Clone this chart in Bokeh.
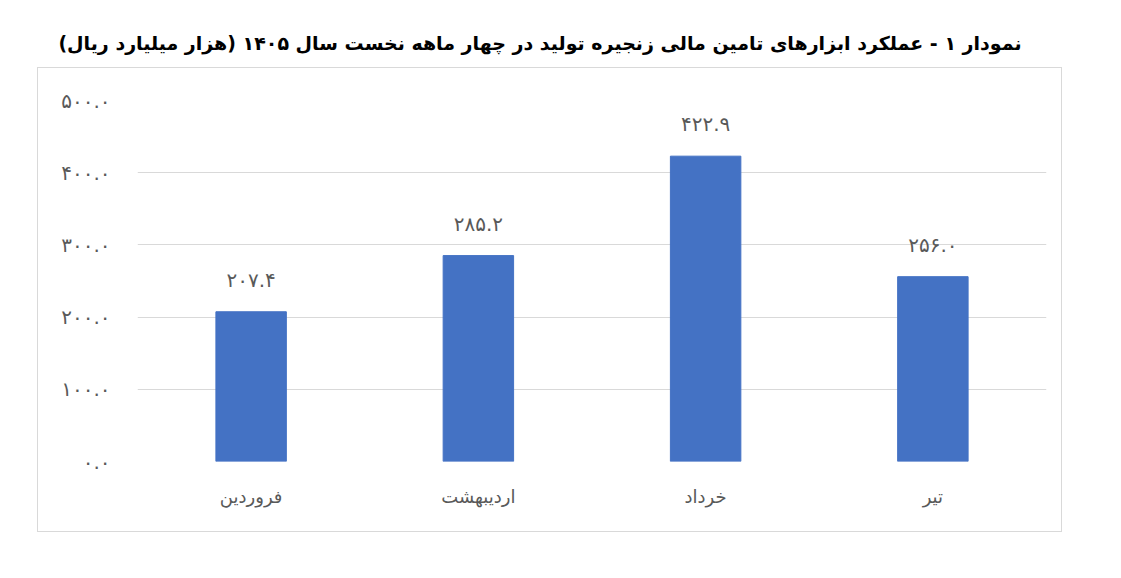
from bokeh.plotting import figure
from bokeh.models import ColumnDataSource, FixedTicker, Range1d, FactorRange, Div
from bokeh.layouts import column
from bokeh.core.properties import value
from bokeh.embed import file_html
from bokeh.resources import INLINE

title_text = "نمودار ۱ - عملکرد ابزارهای تامین مالی زنجیره تولید در چهار ماهه نخست سال ۱۴۰۵ (هزار میلیارد ریال)"
months = ["فروردین", "اردیبهشت", "خرداد", "تیر"]
values = [207.4, 285.2, 422.9, 256.0]
value_labels = ["۲۰۷.۴", "۲۸۵.۲", "۴۲۲.۹", "۲۵۶.۰"]
y_ticks = [0, 100, 200, 300, 400, 500]
y_tick_labels = ["۰.۰", "۱۰۰.۰", "۲۰۰.۰", "۳۰۰.۰", "۴۰۰.۰", "۵۰۰.۰"]

FONT = "DejaVu Sans"
GRAY = "#595959"

src = ColumnDataSource(dict(x=months, y=values, lab=value_labels))

p = figure(width=1025, height=465, x_range=FactorRange(*months, range_padding=0),
           y_range=Range1d(0, 500), output_backend="svg", toolbar_location=None,
           min_border_left=99, min_border_right=17, min_border_top=32, min_border_bottom=72)
p.margin = (0, 0, 0, 37)
p.styles = {"border": "1px solid #d9d9d9"}
p.outline_line_color = None

p.vbar(x="x", top="y", width=0.31, source=src, fill_color="#4472C4", line_color="#4472C4")
p.text(x="x", y="y", text="lab", source=src, text_align="center", text_baseline="bottom",
       y_offset=-20, text_font=value(FONT), text_font_size="20px", text_color=GRAY)

p.yaxis.ticker = FixedTicker(ticks=y_ticks)
p.yaxis.major_label_overrides = {t: l for t, l in zip(y_ticks, y_tick_labels)}
for ax in (p.xaxis, p.yaxis):
    ax.axis_line_color = None
    ax.major_tick_line_color = None
    ax.minor_tick_line_color = None
    ax.major_label_text_font = FONT
    ax.major_label_text_color = GRAY
p.yaxis.major_label_text_font_size = "20px"
p.xaxis.major_label_text_font_size = "18px"
p.yaxis.major_label_standoff = 21
p.xaxis.major_label_standoff = 18
p.xgrid.grid_line_color = None
p.ygrid.grid_line_color = "#d9d9d9"

title = Div(text=f'<div style="width:1070px;text-align:center;direction:rtl;font-family:\'DejaVu Sans\';'
                 f'font-weight:bold;font-size:19px;color:#000;padding-top:25px;">{title_text}</div>',
            width=1070, height=57)

layout = column(title, p)
open("out.html", "w").write(file_html(layout, INLINE))
